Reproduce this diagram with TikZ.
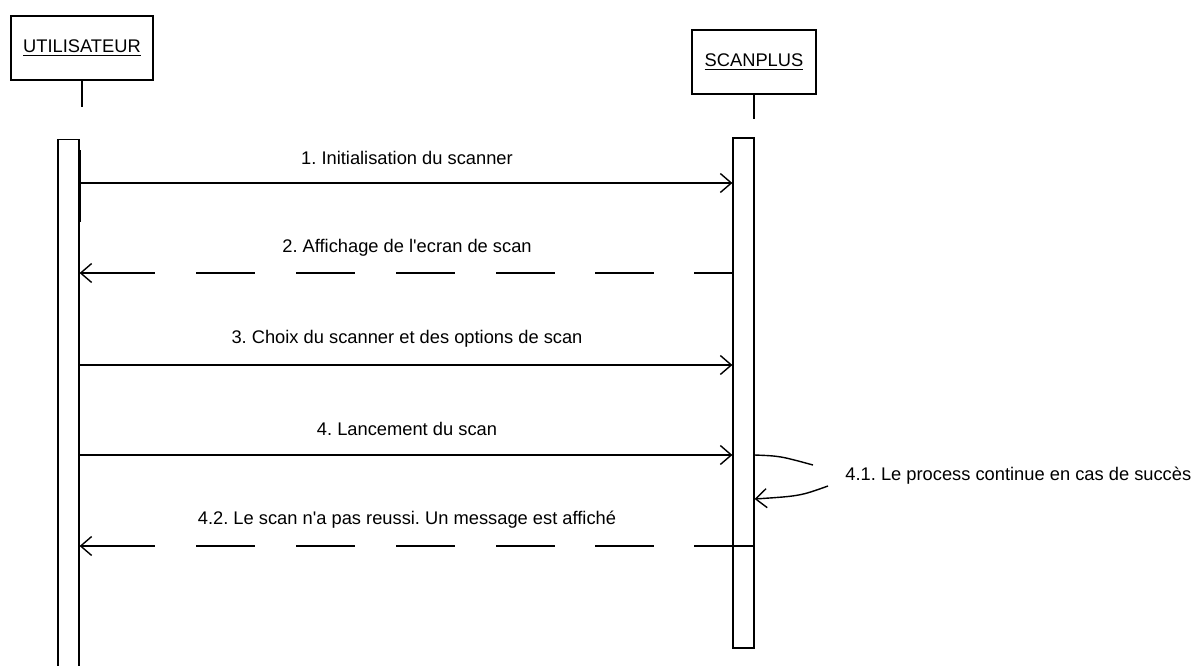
\documentclass[tikz,border=0pt]{standalone}
\usepackage{fontspec}
\setmainfont{Liberation Sans}
\usetikzlibrary{arrows.meta}
\frenchspacing

\begin{document}
\begin{tikzpicture}[x=0.5pt,y=-0.5pt,
    every node/.style={font=\fontsize{9.15}{11}\selectfont},
    actor/.style={draw,line width=0.7pt,rectangle,minimum height=32pt,inner sep=0pt},
    activation/.style={draw,line width=0.6pt,rectangle,minimum width=10.5pt,inner sep=0pt},
    lifeline/.style={line width=0.6pt},
    call/.style={line width=0.7pt,-{Straight Barb[length=5.5pt,width=9.5pt,line width=0.7pt]}},
    reply/.style={line width=0.7pt,{Straight Barb[length=5.5pt,width=9.5pt,line width=0.7pt]}-,
      dash pattern=on 37pt off 20.5pt on 29.5pt off 20.5pt on 29.5pt off 20.5pt
        on 29.5pt off 20.5pt on 29.5pt off 20pt on 29.5pt off 20pt on 30pt off 20pt},
    msglabel/.style={anchor=center}
  ]
  \useasboundingbox (0,0) rectangle (1195,665);

  % actors
  \node[actor,minimum width=71pt] (ubox) at (82,48) {\underline{UTILISATEUR}};
  \node[actor,minimum width=62pt] (sbox) at (754,62) {\underline{SCANPLUS}};

  % lifeline stubs
  \coordinate (ustub) at (82,107);
  \coordinate (sstub) at (754,119);
  \draw[lifeline] (ubox.south) -- (ustub);
  \draw[lifeline] (sbox.south) -- (sstub);

  % activation bars
  \node[activation,minimum height=280.5pt] (ubar) at (68.5,420) {};
  \node[activation,minimum height=255pt] (sbar) at (743.5,393) {};
  \draw[line width=1.1pt] (ubar.north east |- 0,150) -- (ubar.north east |- 0,222);

  % message levels
  \coordinate (y1) at (0,183);
  \coordinate (y2) at (0,273);
  \coordinate (y3) at (0,365);
  \coordinate (y4) at (0,455);
  \coordinate (y5) at (0,546);

  % 1. initialisation
  \draw[call] (ubar.east |- y1) -- (sbar.west |- y1);
  \node[msglabel] (l1) at (407,158) {1. Initialisation du scanner};

  % 2. scan screen shown
  \draw[reply] (ubar.east |- y2) -- (sbar.west |- y2);
  \node[msglabel] (l2) at (407,248) {2. Affichage de l\textquotesingle ecran de scan};

  % 3. scanner and options
  \draw[call] (ubar.east |- y3) -- (sbar.west |- y3);
  \node[msglabel] (l3) at (407,339) {3. Choix du scanner et des options de scan};

  % 4. start scan
  \draw[call] (ubar.east |- y4) -- (sbar.west |- y4);
  \node[msglabel] (l4) at (407,429) {4. Lancement du scan};

  % 4.1 self message
  \node[anchor=west,inner sep=1pt] (l41) at (843,476) {4.1. Le process continue en cas de succès};
  \coordinate (s1) at (813,465);
  \coordinate (s2) at (828,486);
  \coordinate (s3) at (0,499);
  \draw[line width=0.7pt] (sbar.east |- y4) .. controls (780,456) .. (s1);
  \draw[call] (s2) .. controls (800,496) .. (sbar.east |- s3);

  % 4.2 failure message
  \draw[reply] (ubar.east |- y5) -- (sbar.east |- y5);
  \node[msglabel] (l42) at (407,520) {4.2. Le scan n\textquotesingle a pas reussi. Un message est affiché};
\end{tikzpicture}
\end{document}
